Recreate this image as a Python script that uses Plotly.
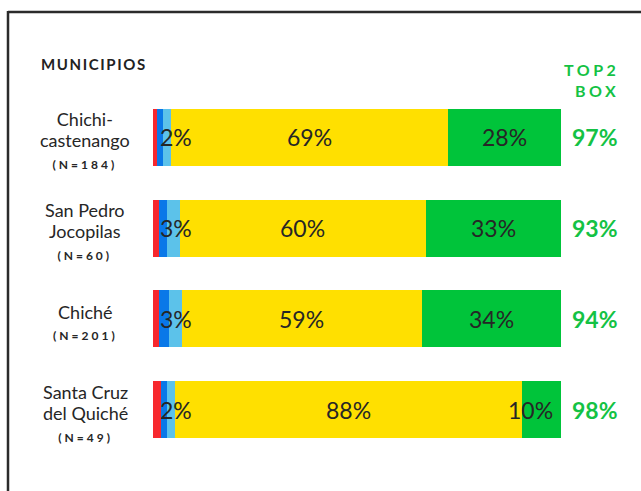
import numpy as np
import plotly.graph_objects as go

# Municipalities and sample sizes
municipios = ["Chichi-<br>castenango", "San Pedro<br>Jocopilas", "Chiché", "Santa Cruz<br>del Quiché"]
n_muestra = [184, 60, 201, 49]

# Response shares (%) per municipality, from most negative to most positive
muy_malo = [1.0, 1.5, 1.5, 2.0]
malo = [1.5, 2.0, 2.5, 1.5]
regular = [2, 3, 3, 2]
bueno = [69, 60, 59, 88]
muy_bueno = [28, 33, 34, 10]
top2_box = [97, 93, 94, 98]

colors = ["#f7282e", "#0a78e8", "#5cc2ea", "#ffe000", "#00c43a"]
series = [muy_malo, malo, regular, bueno, muy_bueno]

W, H = 641, 491
ML, MR, MT, MB = 153, 80, 92, 36
PW, PH = W - ML - MR, H - MT - MB


def px_x(px):
    return (px - ML) / PW


def px_y(py):
    return (H - MB - py) / PH


rows = list(range(len(municipios)))
fig = go.Figure()
for vals, col in zip(series, colors):
    fig.add_trace(go.Bar(
        y=rows, x=vals, orientation="h", marker=dict(color=col, line=dict(width=0)),
        width=0.63, hoverinfo="skip", showlegend=False,
    ))

# Segment labels placed at the centre of each (normalized) segment,
# kept clear of the bar's right end
mat = np.array(series, dtype=float)
totals = mat.sum(axis=0)
cum = np.cumsum(mat, axis=0)
max_centre = 100 - 31 / PW * 100
annotations = []
label_font = dict(family="Lato", size=23, color="#262626")
for i in rows:
    annotations.append(dict(
        x=0, y=i, xref="x", yref="y", xanchor="left", yanchor="middle", xshift=5,
        text=f"{regular[i]}%", showarrow=False, font=label_font,
    ))
    for k, vals in ((3, bueno), (4, muy_bueno)):
        centre = (cum[k, i] - mat[k, i] / 2) / totals[i] * 100
        annotations.append(dict(
            x=min(centre, max_centre), y=i, xref="x", yref="y", xanchor="center",
            yanchor="middle", text=f"{vals[i]}%", showarrow=False, font=label_font,
        ))
    annotations.append(dict(
        x=100, y=i, xref="x", yref="y", xanchor="left", yanchor="middle", xshift=9,
        text=f"<b>{top2_box[i]}%</b>", showarrow=False,
        font=dict(family="Lato", size=23, color="#14c244"),
    ))
    name = municipios[i].replace("<br>", "</span><br><span style='font-size:18px'>")
    annotations.append(dict(
        x=px_x(85), y=i, xref="paper", yref="y", xanchor="center", yanchor="middle",
        yshift=-3,
        text=(f"<span style='font-size:18px'>{name}</span><br>"
              f"<span style='font-size:12px;letter-spacing:3px'>"
              f"<b>(N={n_muestra[i]})</b></span>"),
        showarrow=False, align="center",
        font=dict(family="Lato", size=16.5, color="#262626"),
    ))

annotations.append(dict(
    x=px_x(39), y=px_y(64), xref="paper", yref="paper", xanchor="left", yanchor="middle",
    text="<span style='letter-spacing:1.6px'><b>MUNICIPIOS</b></span>", showarrow=False,
    font=dict(family="Lato", size=15, color="#222222"),
))
annotations.append(dict(
    x=px_x(621), y=px_y(80), xref="paper", yref="paper", xanchor="right", yanchor="middle",
    text="<span style='letter-spacing:3.5px'><b>TOP2<br>BOX</b></span>", showarrow=False,
    align="right", font=dict(family="Lato", size=16, color="#14c244"),
))

# Frame lines along the top and left edges
frame = dict(color="#2b2b2b", width=2.5)
shapes = [
    dict(type="line", xref="paper", yref="paper", x0=px_x(8), x1=px_x(660),
         y0=px_y(12), y1=px_y(12), line=frame),
    dict(type="line", xref="paper", yref="paper", x0=px_x(8), x1=px_x(8),
         y0=px_y(11), y1=px_y(520), line=frame),
]

fig.update_layout(
    width=W, height=H, barmode="stack", barnorm="percent",
    margin=dict(l=ML, r=MR, t=MT, b=MB, autoexpand=False),
    paper_bgcolor="white", plot_bgcolor="white",
    xaxis=dict(range=[0, 100], visible=False, fixedrange=True),
    yaxis=dict(range=[3.5, -0.5], visible=False, fixedrange=True),
    annotations=annotations, shapes=shapes,
    font=dict(family="Lato"),
)

fig.write_html("out.html", config={"displayModeBar": False})
